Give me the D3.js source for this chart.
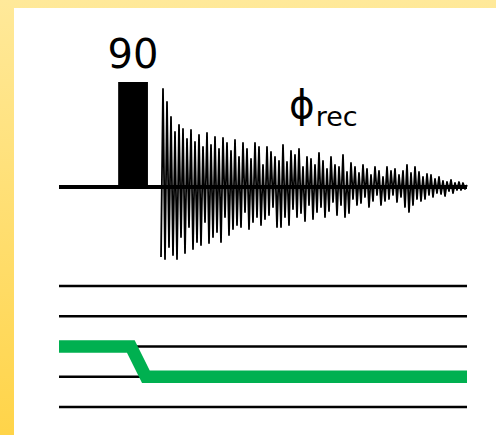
<!DOCTYPE html>
<html><head><meta charset="utf-8">
<script src="https://cdn.jsdelivr.net/npm/d3@7/dist/d3.min.js"></script>
<style>html,body{margin:0;padding:0;overflow:hidden;}svg{display:block;}</style>
</head><body>
<svg id="c" width="496" height="435"></svg>
<script>
// ---- data ----
const pulseLabel = "90";
const pulseTimes = [14.5, 21.8];      // ms (start, end) of 90° pulse
const pulseAmp = 105;                 // relative amplitude
const fidStart = 25, fidEnd = 100;    // ms
const fidValues = [
  -70, 98, -72, 85, -60, 70, -68, 55, -72, 62,
  -50, 58, -66, 48, -40, 57, -62, 45, -55, 52,
  -58, 40, -35, 54, -56, 42, -50, 50, -45, 38,
  -55, 49, -30, 44, -48, 36, -42, 47, -38, 30,
  -40, 44, -25, 38, -42, 28, -35, 44, -30, 40,
  -38, 22, -32, 40, -28, 35, -20, 30, -40, 26,
  -40, 42, -30, 25, -38, 36, -22, 32, -30, 38,
  -26, 20, -34, 30, -18, 28, -32, 22, -25, 34,
  -20, 26, -30, 18, -24, 30, -15, 22, -28, 20,
  -18, 32, -30, 15, -26, 24, -12, 20, -18, 14,
  -16, 22, -10, 18, -20, 12, -14, 20, -8, 16,
  -18, 10, -14, 20, -12, 16, -8, 18, -15, 12,
  -10, 16, -20, 22, -25, 14, -18, 20, -12, 15,
  -14, 10, -12, 13, -8, 12, -10, 8, -6, 10,
  -7, 6, -9, 5, -4, 7, -6, 4, -3, 5,
  -3, 4, -2, 2
];
const channelLines = [0, 1, 2, 3, 4];          // lower channel baselines
const gradTimes  = [0, 17.6, 21.3, 100];       // ms
const gradLevels = [1, 1, 0, 0];               // relative level
const phaseMain = "\u03D5", phaseSub = "rec";

// ---- drawing ----
const svg = d3.select("#c");
const defs = svg.append("defs");
const lg = defs.append("linearGradient").attr("id","bg").attr("x1",0).attr("y1",0).attr("x2",0).attr("y2",1);
lg.append("stop").attr("offset","0%").attr("stop-color","#ffe99a");
lg.append("stop").attr("offset","100%").attr("stop-color","#ffd449");
svg.append("rect").attr("width",496).attr("height",435).attr("fill","url(#bg)");
svg.append("rect").attr("x",14).attr("y",8).attr("width",482).attr("height",427).attr("fill","#fff");

const x = d3.scaleLinear().domain([0, 100]).range([59, 467]);
const yRF = d3.scaleLinear().domain([-100, 100]).range([287, 87]);
const yCh = d3.scalePoint().domain(channelLines).range([286, 407]);
const yG = d3.scaleLinear().domain([0, 1]).range([yCh(3), yCh(2)]);

// RF baseline
svg.append("line").attr("x1",x(0)).attr("x2",x(100)).attr("y1",yRF(0)).attr("y2",yRF(0))
  .attr("stroke","#000").attr("stroke-width",4);

// pulse
svg.append("rect").attr("x",x(pulseTimes[0])).attr("y",yRF(pulseAmp))
  .attr("width",x(pulseTimes[1])-x(pulseTimes[0])).attr("height",yRF(0)-yRF(pulseAmp))
  .attr("fill","#000");
svg.append("text").attr("x",(x(pulseTimes[0])+x(pulseTimes[1]))/2).attr("y",68)
  .attr("text-anchor","middle").attr("font-family","DejaVu Sans").attr("font-size",40)
  .attr("fill","#000").text(pulseLabel);

// FID
const tScale = d3.scaleLinear().domain([0, fidValues.length-1]).range([fidStart, fidEnd]);
const line = d3.line().x((d,i)=>x(tScale(i))).y(d=>yRF(d));
svg.append("path").datum(fidValues).attr("d",line).attr("fill","none")
  .attr("stroke","#000").attr("stroke-width",1.8).attr("stroke-linejoin","round");

// phase label
const t = svg.append("text").attr("x",289).attr("y",118).attr("font-family","DejaVu Sans").attr("fill","#000");
t.append("tspan").attr("font-size",39).text(phaseMain);
t.append("tspan").attr("font-size",27).attr("dy",8).attr("dx",1).text(phaseSub);

// lower channel lines
svg.selectAll("line.ch").data(channelLines).enter().append("line").attr("class","ch")
  .attr("x1",x(0)).attr("x2",x(100)).attr("y1",d=>yCh(d)).attr("y2",d=>yCh(d))
  .attr("stroke","#000").attr("stroke-width",2.5);

// gradient (green)
const gl = d3.line().x((d,i)=>x(gradTimes[i])).y(d=>yG(d));
svg.append("path").datum(gradLevels).attr("d",gl).attr("fill","none")
  .attr("stroke","#00b050").attr("stroke-width",12.5).attr("stroke-linejoin","miter");
</script>
</body></html>
